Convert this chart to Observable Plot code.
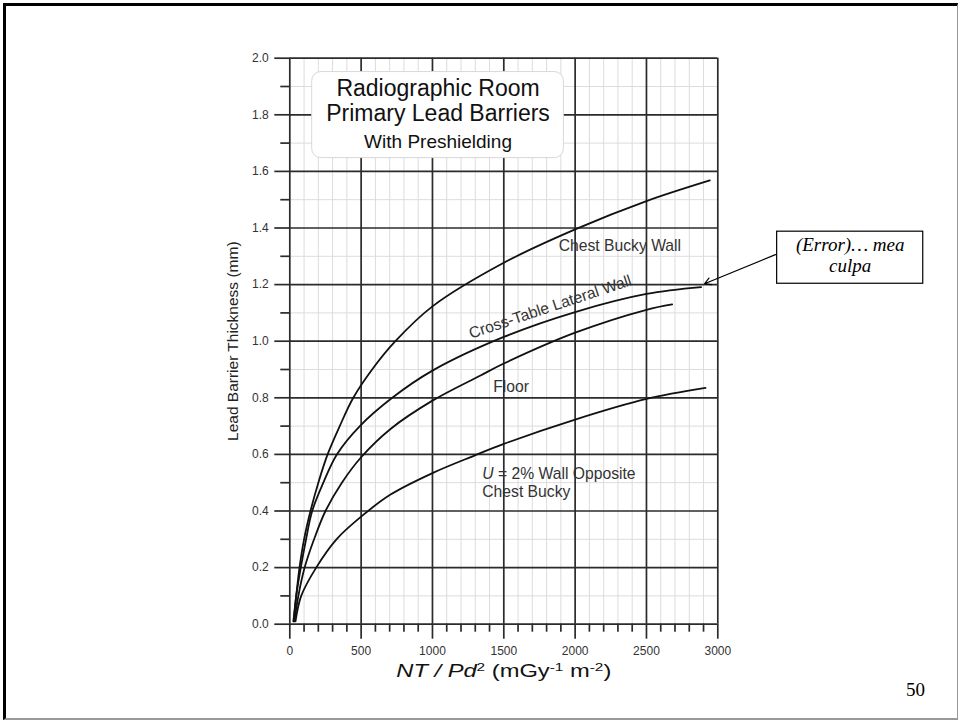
<!DOCTYPE html>
<html><head><meta charset="utf-8">
<script src="https://cdn.jsdelivr.net/npm/d3@7"></script>
<script src="https://cdn.jsdelivr.net/npm/@observablehq/plot@0.6"></script>
<style>
body{margin:0;background:#fff;width:960px;height:721px;overflow:hidden;position:relative;font-family:"Liberation Sans",Arial,sans-serif}
#chart{position:absolute;left:0;top:0}
#frame{position:absolute;left:3px;top:3px;width:955px;height:717px;box-sizing:border-box;border-top:3px solid #000;border-left:3px solid #000;border-right:1px solid #999;border-bottom:2px solid #999;pointer-events:none}
#page{position:absolute;left:906px;top:680px;font-family:"Liberation Serif","Times New Roman",serif;font-size:19px;line-height:1;color:#000}
</style></head><body>
<div id="chart"></div><div id="frame"></div><div id="page">50</div>
<script>
// ---- series data (NT/Pd², lead thickness mm) ----
const seriesNames = ["Chest Bucky Wall", "Cross-Table Lateral Wall", "Floor", "U = 2% Wall Opposite Chest Bucky"];
const chestX = [25, 45, 68, 100, 145, 200, 265, 350, 445, 577, 740, 1000, 1500, 2000, 2500, 2944];
const chestY = [0.01, 0.1, 0.2, 0.3, 0.4, 0.5, 0.6, 0.7, 0.8, 0.9, 1.0, 1.123, 1.277, 1.395, 1.495, 1.568];
const crossX = [28, 45, 77, 114, 157, 235, 330, 491, 718, 1000, 1500, 2000, 2500, 2883];
const crossY = [0.01, 0.1, 0.2, 0.3, 0.4, 0.5, 0.6, 0.7, 0.8, 0.896, 1.015, 1.103, 1.167, 1.191];
const floorX = [32, 60, 104, 170, 250, 365, 500, 706, 1000, 1337, 1500, 2000, 2500, 2680];
const floorY = [0.01, 0.1, 0.2, 0.3, 0.4, 0.5, 0.59, 0.69, 0.79, 0.879, 0.921, 1.03, 1.111, 1.13];
const uWallX = [40, 80, 185, 327, 500, 706, 1000, 1290, 1500, 2000, 2500, 2914];
const uWallY = [0.01, 0.1, 0.2, 0.3, 0.38, 0.458, 0.534, 0.595, 0.637, 0.723, 0.796, 0.835];

// ---- ticks ----
const xMajorTicks = [0, 500, 1000, 1500, 2000, 2500, 3000];
const xMinorTicks = [100,200,300,400,600,700,800,900,1100,1200,1300,1400,1600,1700,1800,1900,2100,2200,2300,2400,2600,2700,2800,2900];
const yMajorTicks = [0, 0.2, 0.4, 0.6, 0.8, 1.0, 1.2, 1.4, 1.6, 1.8, 2.0];
const yMinorTicks = [0.1, 0.3, 0.5, 0.7, 0.9, 1.1, 1.3, 1.5, 1.7, 1.9];

// ---- texts ----
const yTitle = "Lead Barrier Thickness (mm)";
const xTitleParts = [["NT / Pd","italic",false],["2","normal",true],[" (mGy","normal",false],["-1","normal",true],[" m","normal",false],["-2","normal",true],[")","normal",false]];
const titleLines = ["Radiographic Room", "Primary Lead Barriers", "With Preshielding"];
const titleLineY = [1.868, 1.777, 1.682];
const titleBox = {x1: 157, x2: 1921, y1: 1.647, y2: 1.951};
const curveLabels = ["Chest Bucky Wall", "Floor"];
const curveLabelX = [1885, 1426];
const curveLabelY = [1.317, 0.820];
const crossLabel = "Cross-Table Lateral Wall";
const crossLabelPos = {x: 1836, y: 1.104};
const uLabelItalic = "U";
const uLabelLines = ["U = 2% Wall Opposite", "Chest Bucky"];
const uLabelPos = {x: 1349, y: 0.451};
const noteLines = ["(Error)\u2026 mea", "culpa"];
const noteLineY = [1.318, 1.244];
const noteBox = {x1: 3416, x2: 4440, y1: 1.203, y2: 1.387};
const noteArrow = {x1: 3404, y1: 1.306, x2: 2907, y2: 1.203};

const lineData = [
  ...chestX.map((x, i) => ({series: seriesNames[0], x, y: chestY[i]})),
  ...crossX.map((x, i) => ({series: seriesNames[1], x, y: crossY[i]})),
  ...floorX.map((x, i) => ({series: seriesNames[2], x, y: floorY[i]})),
  ...uWallX.map((x, i) => ({series: seriesNames[3], x, y: uWallY[i]}))
];

const W = 960, H = 700, mLeftPx = 289.3, mRightPx = 717.3, mTopPx = 57.7, mBottomPx = 623.7;
const sans = "'Liberation Sans', Arial, sans-serif";
const serif = "'Liberation Serif', 'Times New Roman', serif";
const xTitlePlain = xTitleParts.map(d => d[0]).join("");
const uLabelText = uLabelLines.join("\n");

const chart = Plot.plot({
  width: W, height: H,
  marginLeft: mLeftPx, marginRight: W - mRightPx, marginTop: mTopPx, marginBottom: H - mBottomPx,
  x: {domain: [0, 3000], label: null},
  y: {domain: [0, 2], label: null},
  style: {fontFamily: sans, background: "transparent", color: "#222"},
  marks: [
    Plot.ruleX(xMinorTicks, {stroke: "#dcdcdc", strokeWidth: 1}),
    Plot.ruleY(yMinorTicks, {stroke: "#dcdcdc", strokeWidth: 1}),
    Plot.ruleX(xMajorTicks, {stroke: "#2b2b2b", strokeWidth: 1.7}),
    Plot.ruleY(yMajorTicks, {stroke: "#2b2b2b", strokeWidth: 1.7}),
    Plot.axisX(xMajorTicks, {tickSize: 15, tickPadding: 7, fontSize: 12, tickFormat: d3.format("d"), stroke: "#2b2b2b", strokeWidth: 1.7, fill: "#333", label: null}),
    Plot.axisX(xMinorTicks, {tickSize: 8, tickFormat: () => "", stroke: "#2b2b2b", strokeWidth: 1.7, label: null}),
    Plot.axisY(yMajorTicks, {tickSize: 15, tickPadding: 6, fontSize: 12, tickFormat: d3.format(".1f"), stroke: "#2b2b2b", strokeWidth: 1.7, fill: "#333", label: null}),
    Plot.axisY(yMinorTicks, {tickSize: 9, tickFormat: () => "", stroke: "#2b2b2b", strokeWidth: 1.7, label: null}),
    Plot.line(lineData, {x: "x", y: "y", z: "series", stroke: "#111", strokeWidth: 1.8, curve: "catmull-rom"}),
    Plot.rect([titleBox], {x1: "x1", x2: "x2", y1: "y1", y2: "y2", fill: "white", stroke: "#d8d8d8", strokeWidth: 1, rx: 9}),
    Plot.text(titleLines.slice(0, 2), {x: titleBox.x1 + (titleBox.x2 - titleBox.x1) / 2, y: (d, i) => titleLineY[i], text: d => d, fontSize: 23, textAnchor: "middle", lineAnchor: "bottom", fill: "#111"}),
    Plot.text(titleLines.slice(2), {x: titleBox.x1 + (titleBox.x2 - titleBox.x1) / 2, y: (d, i) => titleLineY[2 + i], text: d => d, fontSize: 19, textAnchor: "middle", lineAnchor: "bottom", fill: "#111"}),
    Plot.text(curveLabels, {x: (d, i) => curveLabelX[i], y: (d, i) => curveLabelY[i], text: d => d, fontSize: 15.7, textAnchor: "start", lineAnchor: "bottom", fill: "#333"}),
    Plot.text([crossLabel], {x: crossLabelPos.x, y: crossLabelPos.y, text: d => d, rotate: -18.4, fontSize: 15.7, textAnchor: "middle", lineAnchor: "bottom", fill: "#333"}),
    Plot.text([uLabelText], {x: uLabelPos.x, y: uLabelPos.y, text: d => d, fontSize: 15.7, lineHeight: 1.15, textAnchor: "start", lineAnchor: "bottom", fill: "#333"}),
    Plot.text([yTitle], {frameAnchor: "left", rotate: -90, dx: -57, fontSize: 15.5, textAnchor: "middle", lineAnchor: "middle", fill: "#222"}),
    Plot.text([xTitlePlain], {frameAnchor: "bottom", dy: 52.3, fontSize: 18, textAnchor: "middle", lineAnchor: "bottom", fill: "#111"}),
    Plot.rect([noteBox], {x1: "x1", x2: "x2", y1: "y1", y2: "y2", fill: "white", stroke: "#000", strokeWidth: 1.2}),
    Plot.text(noteLines, {x: noteBox.x1 + (noteBox.x2 - noteBox.x1) / 2, y: (d, i) => noteLineY[i], text: d => d, fontFamily: serif, fontStyle: "italic", fontSize: 19, textAnchor: "middle", lineAnchor: "bottom", fill: "#000"}),
    Plot.arrow([noteArrow], {x1: "x1", y1: "y1", x2: "x2", y2: "y2", stroke: "#000", strokeWidth: 1.2, headLength: 9, bend: 0})
  ]
});

// x-axis title with italic and superscript parts
d3.select(chart).selectAll("text").filter(function () { return this.textContent === xTitlePlain; }).each(function () {
  const t = d3.select(this);
  t.text(null).attr("textLength", 215).attr("lengthAdjust", "spacingAndGlyphs");
  xTitleParts.forEach(([s, style, sup]) => {
    const ts = t.append("tspan").attr("font-style", style).text(s);
    if (sup) ts.attr("baseline-shift", "super").attr("font-size", "65%");
  });
});

// italic "U" in the two-line curve label
d3.select(chart).selectAll("text tspan").filter(function () { return this.textContent === uLabelLines[0]; }).each(function () {
  const t = d3.select(this);
  t.text(null);
  t.append("tspan").attr("font-style", "italic").text(uLabelItalic);
  t.append("tspan").text(uLabelLines[0].slice(uLabelItalic.length));
});

document.getElementById("chart").appendChild(chart);
</script>
</body></html>
